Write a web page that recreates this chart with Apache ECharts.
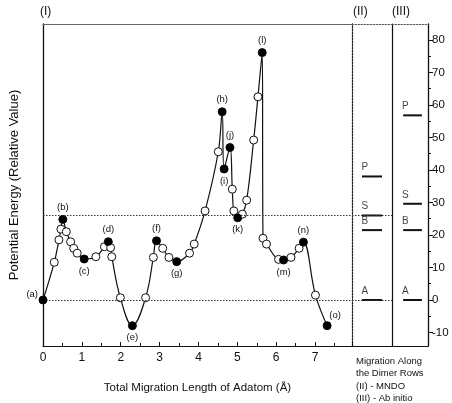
<!DOCTYPE html>
<html><head><meta charset="utf-8">
<script src="https://cdn.jsdelivr.net/npm/echarts@6/dist/echarts.min.js"></script>
<style>html,body{margin:0;padding:0;background:#fff}#c{width:452px;height:403px}</style>
</head><body><div id="c"></div>
<script>
// ---- data ----
const pathX = [0,0.29,0.41,0.46,0.51,0.60,0.71,0.79,0.88,1.06,1.36,1.58,1.68,1.74,1.77,1.99,2.30,2.64,2.84,2.92,3.08,3.24,3.44,3.77,3.89,4.17,4.51,4.61,4.66,4.81,4.87,4.91,5.01,5.13,5.24,5.42,5.53,5.64,5.66,5.75,6.06,6.19,6.38,6.59,6.70,7.01,7.31];
const pathY = [0,11.6,18.5,21.8,24.8,21.0,17.9,15.9,14.4,12.6,13.3,16.4,17.9,16.1,13.3,0.7,-7.9,0.7,13.1,18.2,15.9,13.1,11.8,14.4,17.2,27.4,45.6,57.9,40.3,46.9,34.1,27.4,25.3,26.4,30.7,49.2,62.5,76.1,19.0,17.2,12.5,12.3,13.1,15.9,17.8,1.5,-7.9];
const pointLabels = {0:'(a)',4:'(b)',9:'(c)',12:'(d)',16:'(e)',19:'(f)',22:'(g)',27:'(h)',28:'(i)',29:'(j)',32:'(k)',37:'(l)',41:'(m)',44:'(n)',46:'(o)'};
const refLines = [0, 26];
const levelNames = ['P','S','B','A'];
const levelsII = [38, 26, 21.5, 0];   // (II) MNDO
const levelsIII = [56.8, 29.6, 21.5, 0]; // (III) Ab initio
const xTickLabels = [0,1,2,3,4,5,6,7];
const yTickLabels = [-10,0,10,20,30,40,50,60,70,80];
const yMinorTicks = [-5,5,15,25,35,45,55,65,75];
const panelTitles = ['(I)','(II)','(III)'];
const noteLines = ['Migration Along','the Dimer Rows','(II) - MNDO','(III) - Ab initio'];

// ---- layout / style ----
const Y0 = -14.15, Y1 = 84.9;
const INK = '#111';
const FONT = '"Liberation Sans", Arial, sans-serif';
const labelPos = {'(a)':['left',[2,-6]],'(b)':['top',[0,0]],'(c)':['bottom',[0,0]],'(d)':['top',[0,0]],'(e)':['bottom',[0,0]],'(f)':['top',[0,0]],'(g)':['bottom',[0,0]],'(h)':['top',[0,0]],'(i)':['bottom',[0,0]],'(j)':['top',[0,0]],'(k)':['bottom',[0,0]],'(l)':['top',[0,0]],'(m)':['bottom',[0,0]],'(n)':['top',[0,0]],'(o)':['top',[8,2]]};

const chart = echarts.init(document.getElementById('c'), null, {renderer:'canvas'});

const lineData = pathX.map((x,i)=>[x, pathY[i]]);
const filledData = Object.keys(pointLabels).map(k=>{
  const i = +k, name = pointLabels[k], p = labelPos[name];
  return {value:[pathX[i], pathY[i]], name:name,
    label:{show:true, formatter:name, position:p[0], offset:p[1], distance:3}};
});

function levelSeries(levels, xi, yi, x0, x1, lx){
  const s = [];
  levels.forEach((v,i)=>{
    s.push({type:'line', xAxisIndex:xi, yAxisIndex:yi, data:[[x0,v],[x1,v]], symbol:'none',
      lineStyle:{color:INK, width:2}, silent:true, z:3});
  });
  s.push({type:'scatter', xAxisIndex:xi, yAxisIndex:yi, symbolSize:0,
    data: levels.map((v,i)=>({value:[lx,v], name:levelNames[i]})),
    label:{show:true, formatter:p=>p.name, position:'top', distance:4, color:INK, fontSize:10, fontFamily:FONT}, silent:true});
  return s;
}

const refMark = {symbol:'none', silent:true, label:{show:false},
  lineStyle:{color:'#333', type:[1.5,1.5], width:1.2}, data: refLines.map(v=>({yAxis:v}))};

const baseAxis = {axisLabel:{show:false}, axisTick:{show:false}, splitLine:{show:false}};
function ax(extra, line){ const a = Object.assign({}, baseAxis, extra); a.axisLine = Object.assign({show:true, onZero:false}, line); return a; }
const option = {
  animation:false,
  backgroundColor:'#fff',
  textStyle:{fontFamily:FONT},
  grid:[
    {left:41, top:24, width:311, height:322},
    {left:352, top:24, width:40, height:322},
    {left:392, top:24, width:36, height:322}
  ],
  xAxis:[
    {type:'value', gridIndex:0, min:0, max:7.95, interval:1, position:'bottom',
     axisLine:{show:true, onZero:false, lineStyle:{color:INK, width:1.2}},
     axisTick:{show:true, inside:true, length:4, lineStyle:{color:INK}},
     minorTick:{show:true, splitNumber:2, length:3, lineStyle:{color:INK}},
     splitLine:{show:false}, minorSplitLine:{show:false},
     axisLabel:{color:INK, fontSize:12, margin:6, formatter:v=>xTickLabels.includes(v)?String(v):'', showMaxLabel:false},
     name:'Total Migration Length of Adatom (Å)', nameLocation:'middle', nameGap:36,
     nameTextStyle:{color:INK, fontSize:11.5, fontFamily:FONT}},
    ax({type:'value', gridIndex:1, min:0, max:1, position:'bottom'}, {lineStyle:{color:INK, width:1.2}}),
    ax({type:'value', gridIndex:2, min:0, max:1, position:'bottom'}, {lineStyle:{color:INK, width:1.2}}),
    ax({type:'value', gridIndex:0, min:0, max:1, position:'top'}, {lineStyle:{color:'#666', width:1}}),
    ax({type:'value', gridIndex:1, min:0, max:1, position:'top'}, {lineStyle:{color:'#555', type:[1.5,1.5], width:1}}),
    ax({type:'value', gridIndex:2, min:0, max:1, position:'top'}, {lineStyle:{color:'#555', type:[1.5,1.5], width:1}})
  ],
  yAxis:[
    ax({type:'value', gridIndex:0, min:Y0, max:Y1, position:'left',
      name:'Potential Energy (Relative Value)', nameLocation:'middle', nameGap:22, nameRotate:90,
      nameTextStyle:{color:INK, fontSize:13, fontFamily:FONT}}, {lineStyle:{color:INK, width:1.3}}),
    ax({type:'value', gridIndex:0, min:Y0, max:Y1, position:'right'}, {lineStyle:{color:'#222', type:[1.5,1.5], width:1.3}}),
    ax({type:'value', gridIndex:1, min:Y0, max:Y1, position:'right'}, {lineStyle:{color:INK, width:1.2}}),
    {type:'value', gridIndex:2, min:Y0, max:Y1, position:'right',
      axisLine:{show:true, onZero:false, lineStyle:{color:INK, width:1.3}},
      axisTick:{show:true, length:5, customValues:yTickLabels, lineStyle:{color:INK}},
      axisLabel:{show:true, customValues:yTickLabels, color:INK, fontSize:11.5, margin:4},
      splitLine:{show:false}},
    {type:'value', gridIndex:2, min:Y0, max:Y1, position:'right',
      axisLine:{show:false, onZero:false},
      axisTick:{show:true, length:3, customValues:yMinorTicks, lineStyle:{color:INK}},
      axisLabel:{show:false}, splitLine:{show:false}}
  ],
  series:[
    {type:'line', xAxisIndex:0, yAxisIndex:0, data:lineData, smooth:0.4,
     symbol:'circle', symbolSize:8, showAllSymbol:true,
     itemStyle:{color:'#fff', borderColor:INK, borderWidth:1},
     lineStyle:{color:INK, width:1.2}, markLine:refMark, z:4},
    {type:'scatter', xAxisIndex:0, yAxisIndex:0, data:filledData, symbolSize:8,
     itemStyle:{color:'#000', opacity:1}, label:{color:INK, fontSize:9.5, fontFamily:FONT}, z:6},
    {type:'line', xAxisIndex:1, yAxisIndex:2, data:[], markLine:refMark}
  ].concat(levelSeries(levelsII, 1, 2, 0.25, 0.75, 0.32))
   .concat(levelSeries(levelsIII, 2, 3, 0.31, 0.83, 0.37)),
  graphic:[
    {type:'text', left:40, top:6, style:{text:panelTitles[0], fontSize:12, fill:INK, fontFamily:FONT}},
    {type:'text', left:353, top:6, style:{text:panelTitles[1], fontSize:12, fill:INK, fontFamily:FONT}},
    {type:'text', left:392, top:6, style:{text:panelTitles[2], fontSize:12, fill:INK, fontFamily:FONT}},
    {type:'text', left:356, top:355, style:{text:noteLines.join('\n'), fontSize:9.5, lineHeight:12.5, fill:INK, fontFamily:FONT}}
  ]
};
chart.setOption(option);
</script></body></html>
